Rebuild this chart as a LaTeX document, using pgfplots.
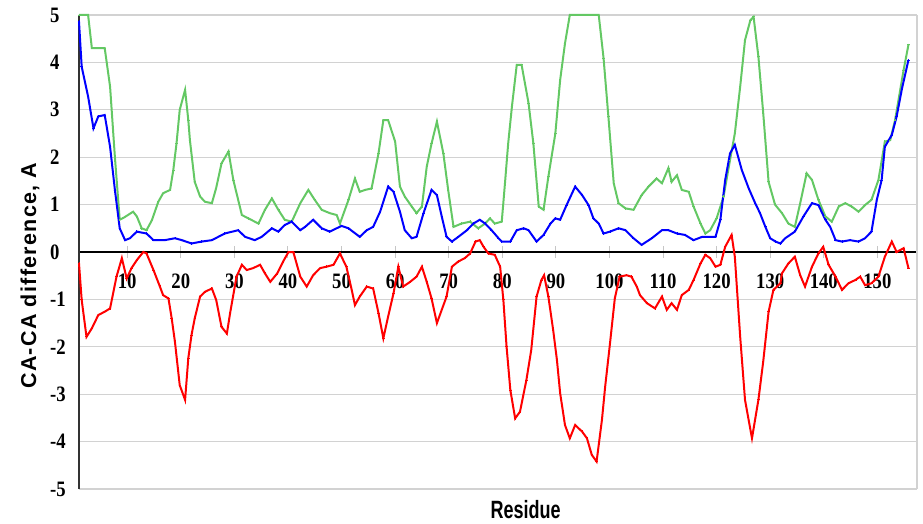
\documentclass[border=0pt]{standalone}
\usepackage{fontspec}
\setmainfont{Liberation Sans}
\newfontfamily\tickfont[FakeStretch=0.85]{Liberation Serif}
\newfontfamily\labfont[LetterSpace=6]{Liberation Sans}
\newfontfamily\resfont[FakeStretch=0.72]{Liberation Sans}
\usepackage{pgfplots}
\pgfplotsset{compat=1.18}
\definecolor{grn}{RGB}{100,200,100}
\definecolor{blu}{RGB}{0,0,255}
\definecolor{rd}{RGB}{255,0,0}
\begin{document}
\begin{tikzpicture}
\path[use as bounding box] (-79pt,-34pt) rectangle (844pt,489pt);
\begin{axis}[
  at={(0,0)}, anchor=south west,
  scale only axis, width=838pt, height=474pt,
  xmin=1, xmax=157.4, ymin=-5, ymax=5,
  axis x line=middle, axis y line=left,
  axis line style={-},
  x axis line style={black, line width=1.3pt},
  y axis line style={black!80, line width=1.3pt},
  xtick={10,20,...,150},
  xticklabels={10,20,30,40,50,60,70,80,90,100,110,120,130,140,150},
  ytick={-5,-4,...,5},
  yticklabels={-5,-4,-3,-2,-1,0,1,2,3,4,5},
  ymajorgrids, grid style={gray!35, line width=1.3pt},
  xtick style={gray!45, line width=1pt},
  ytick style={draw=none},
  major tick length=12pt, tick align=center,
  ticklabel style={font=\tickfont\bfseries\fontsize{22}{22}\selectfont},
  yticklabel style={anchor=west, xshift=-23pt, inner xsep=0pt},
  xticklabel style={anchor=north, inner ysep=0pt, yshift=-16pt},
  hide obscured x ticks=false, hide obscured y ticks=false,
  clip=false,
]
\draw[gray!35, line width=1.3pt] (rel axis cs:1,0) -- (rel axis cs:1,1);
\addplot[color=grn, line width=2pt, mark=+, mark size=1.2pt, mark options={line width=0.8pt}] coordinates {
(1,5.0) (2.7,5.0) (3.4,4.3) (5.8,4.3) (6.8,3.49) (7.7,2.0) (8.6,0.68) (9.3,0.72) (11.1,0.85) (11.8,0.75) (12.7,0.5) (13.6,0.46) (14.6,0.67) (15.8,1.06) (16.7,1.24) (18.0,1.31) (18.6,1.73) (19.2,2.29) (19.8,3.0) (20.8,3.42) (21.4,2.78) (21.7,2.36) (22.6,1.48) (23.6,1.17) (24.5,1.06) (25.8,1.03) (26.6,1.35) (27.6,1.87) (28.9,2.12) (29.8,1.52) (31.4,0.78) (32.6,0.71) (34.5,0.6) (35.7,0.89) (37.0,1.13) (38.2,0.89) (39.4,0.68) (40.7,0.64) (42.3,1.03) (43.8,1.31) (45.0,1.1) (46.3,0.89) (47.8,0.82) (49.1,0.78) (49.7,0.6) (51.3,1.1) (52.5,1.55) (53.4,1.27) (54.4,1.31) (55.6,1.34) (56.9,2.08) (57.8,2.78) (58.7,2.78) (60.0,2.33) (60.9,1.38) (61.8,1.17) (63.1,0.96) (64.0,0.82) (65.0,0.96) (65.9,1.8) (66.8,2.29) (67.8,2.75) (69.0,2.08) (69.9,1.31) (70.9,0.53) (72.4,0.6) (74.0,0.64) (75.5,0.5) (76.8,0.6) (77.7,0.71) (78.6,0.6) (79.9,0.64) (80.5,1.45) (81.1,2.29) (81.8,3.07) (82.7,3.95) (83.6,3.95) (84.9,3.14) (85.8,2.29) (86.8,0.96) (87.7,0.89) (88.6,1.59) (89.9,2.5) (90.8,3.63) (91.7,4.4) (92.6,5.0) (98.0,5.0) (98.9,4.09) (99.8,2.86) (100.8,1.45) (101.7,1.03) (103.0,0.92) (104.5,0.89) (106.0,1.2) (107.3,1.38) (108.8,1.55) (109.8,1.45) (111.0,1.77) (111.6,1.48) (112.6,1.62) (113.5,1.31) (114.8,1.27) (115.7,0.96) (117.0,0.6) (117.9,0.39) (118.8,0.46) (120.0,0.71) (121.3,1.17) (122.5,1.94) (123.4,2.5) (124.4,3.49) (125.3,4.47) (126.3,4.89) (126.9,4.96) (127.8,4.12) (128.7,2.93) (129.7,1.48) (130.9,1.0) (132.2,0.82) (133.4,0.6) (134.6,0.53) (135.6,1.03) (136.8,1.66) (137.8,1.52) (139.0,1.1) (140.3,0.75) (141.5,0.64) (142.8,0.96) (144.0,1.03) (145.2,0.96) (146.5,0.85) (147.7,0.99) (148.9,1.1) (150.2,1.52) (151.4,2.33) (152.4,2.36) (153.3,2.78) (154.9,3.84) (155.8,4.37)
};
\addplot[color=blu, line width=2pt, mark=+, mark size=1.2pt, mark options={line width=0.8pt}] coordinates {
(1,4.86) (1.5,3.91) (2.7,3.28) (3.7,2.61) (4.6,2.86) (5.8,2.89) (6.8,2.22) (7.7,1.31) (8.6,0.5) (9.6,0.25) (10.5,0.29) (11.8,0.43) (13.6,0.39) (14.9,0.25) (17.0,0.25) (18.9,0.29) (20.2,0.25) (22.0,0.18) (23.9,0.22) (25.8,0.25) (28.2,0.39) (30.7,0.46) (32.0,0.32) (33.8,0.25) (35.1,0.32) (37.0,0.5) (38.2,0.43) (39.4,0.57) (40.7,0.64) (42.3,0.46) (43.2,0.53) (44.7,0.68) (46.3,0.5) (47.8,0.43) (50.0,0.55) (51.3,0.5) (53.4,0.32) (54.7,0.46) (55.9,0.53) (57.2,0.85) (58.7,1.38) (59.7,1.27) (60.9,0.85) (61.8,0.46) (63.1,0.29) (64.0,0.32) (65.3,0.82) (66.8,1.31) (67.8,1.2) (68.7,0.75) (69.6,0.32) (70.6,0.22) (71.8,0.32) (73.4,0.46) (74.6,0.6) (75.8,0.68) (76.8,0.6) (78.0,0.46) (79.3,0.29) (79.9,0.22) (81.5,0.22) (82.7,0.46) (84.0,0.5) (84.9,0.46) (86.4,0.22) (87.7,0.36) (89.0,0.6) (89.9,0.71) (90.8,0.68) (92.0,0.99) (93.6,1.38) (94.9,1.2) (96.1,0.99) (97.0,0.71) (98.0,0.6) (98.9,0.39) (100.1,0.43) (101.7,0.5) (103.0,0.46) (104.5,0.29) (106.0,0.15) (107.9,0.29) (109.8,0.46) (111.0,0.46) (112.6,0.39) (114.1,0.36) (115.7,0.25) (117.3,0.32) (119.8,0.32) (120.7,0.68) (121.6,1.52) (122.5,2.08) (123.4,2.26) (124.7,1.73) (126.0,1.34) (127.2,1.03) (128.1,0.82) (129.1,0.53) (130.0,0.29) (131.0,0.22) (131.9,0.18) (132.8,0.29) (134.6,0.43) (136.2,0.75) (137.8,1.03) (139.0,0.99) (140.3,0.68) (141.2,0.53) (142.2,0.25) (143.4,0.22) (144.9,0.25) (146.5,0.22) (147.7,0.29) (148.9,0.43) (149.9,1.1) (150.8,1.52) (151.4,2.22) (152.7,2.47) (153.6,2.86) (154.6,3.45) (155.8,4.05)
};
\addplot[color=rd, line width=2pt, mark=+, mark size=1.2pt, mark options={line width=0.8pt}] coordinates {
(1,-0.24) (1.5,-1.01) (2.4,-1.79) (3.4,-1.61) (4.6,-1.33) (5.8,-1.26) (6.8,-1.19) (8.0,-0.52) (9.0,-0.13) (9.9,-0.56) (10.8,-0.34) (11.8,-0.17) (13.0,0) (13.6,-0.03) (14.9,-0.38) (16.1,-0.73) (16.7,-0.91) (17.7,-0.98) (18.3,-1.40) (18.9,-1.89) (19.8,-2.81) (20.8,-3.12) (21.4,-2.24) (22.0,-1.75) (22.6,-1.40) (23.6,-0.94) (24.5,-0.84) (25.8,-0.77) (26.6,-1.01) (27.6,-1.58) (28.6,-1.72) (29.2,-1.29) (30.4,-0.52) (31.4,-0.27) (32.3,-0.38) (33.5,-0.34) (34.8,-0.27) (35.7,-0.45) (36.7,-0.63) (38.0,-0.45) (39.1,-0.2) (40.1,0) (41.0,0) (42.3,-0.52) (43.5,-0.73) (44.7,-0.49) (46.0,-0.34) (47.2,-0.31) (48.5,-0.27) (49.7,-0.03) (50.9,-0.31) (51.9,-0.80) (52.5,-1.12) (53.4,-0.94) (54.7,-0.73) (55.9,-0.77) (56.9,-1.29) (57.8,-1.82) (58.7,-1.36) (59.7,-0.87) (60.6,-0.31) (61.5,-0.73) (62.8,-0.63) (64.0,-0.52) (65.0,-0.31) (65.9,-0.63) (66.8,-0.98) (67.8,-1.5) (68.7,-1.22) (69.6,-0.94) (70.6,-0.31) (71.8,-0.2) (73.0,-0.13) (74.0,-0.03) (75.0,0.22) (75.8,0.25) (76.5,0.11) (77.4,-0.03) (78.6,-0.06) (79.6,-0.31) (80.2,-1.01) (80.8,-2.0) (81.5,-2.91) (82.4,-3.51) (83.3,-3.37) (84.5,-2.70) (85.4,-2.07) (86.4,-0.94) (87.3,-0.59) (87.8,-0.49) (88.6,-0.94) (89.5,-1.65) (90.2,-2.28) (90.8,-2.98) (91.7,-3.65) (92.6,-3.93) (93.6,-3.65) (94.9,-3.79) (95.8,-3.93) (96.7,-4.28) (97.6,-4.42) (98.6,-3.54) (99.2,-2.84) (100.1,-1.93) (101.0,-0.98) (101.9,-0.52) (103.2,-0.49) (104.1,-0.52) (105.1,-0.73) (105.7,-0.91) (107.0,-1.08) (108.5,-1.19) (109.8,-0.94) (110.7,-1.22) (111.6,-1.08) (112.6,-1.22) (113.5,-0.91) (114.8,-0.80) (115.7,-0.59) (117.0,-0.24) (117.9,-0.06) (118.8,-0.13) (119.8,-0.31) (120.7,-0.27) (121.6,0.11) (122.8,0.36) (123.4,-0.1) (124.4,-1.79) (125.3,-3.12) (126.6,-3.93) (127.8,-3.12) (128.7,-2.31) (129.7,-1.26) (130.6,-0.80) (131.9,-0.66) (132.2,-0.45) (133.4,-0.24) (134.6,-0.1) (135.6,-0.49) (136.5,-0.73) (137.8,-0.31) (139.0,-0.03) (139.9,0.11) (140.9,-0.27) (142.2,-0.52) (143.4,-0.80) (144.6,-0.66) (145.9,-0.59) (146.8,-0.52) (147.7,-0.70) (148.9,-0.66) (150.2,-0.52) (151.4,-0.1) (152.7,0.22) (153.6,0.0) (154.9,0.08) (155.8,-0.34)
};
\node[rotate=90, font=\labfont\bfseries\fontsize{21.5}{21.5}\selectfont] at ([xshift=-49pt]rel axis cs:0,0.45) {CA-CA difference, A};
\node[anchor=base, font=\resfont\bfseries\fontsize{25}{25}\selectfont] at ([yshift=-29pt]rel axis cs:0.533,0) {Residue};
\end{axis}
\end{tikzpicture}
\end{document}
